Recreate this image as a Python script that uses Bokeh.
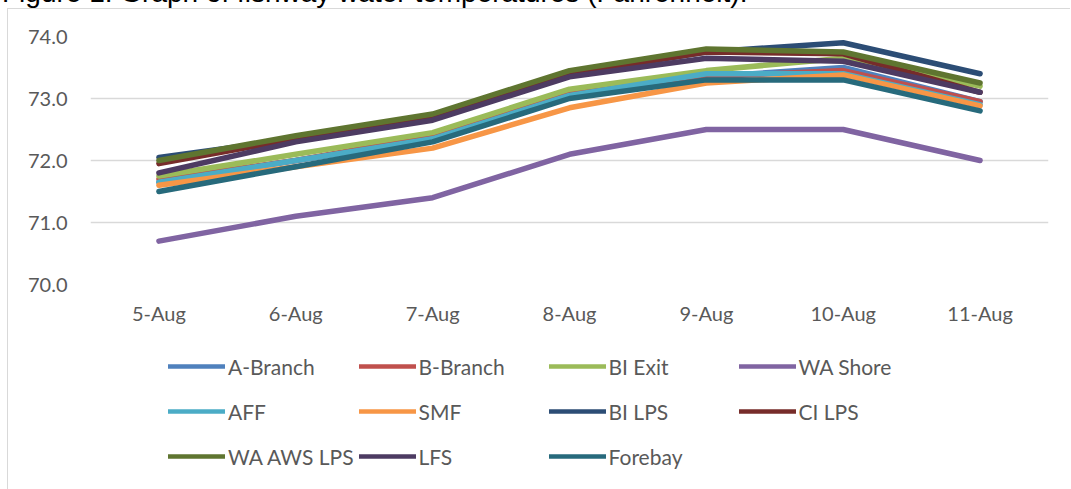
from bokeh.plotting import figure
from bokeh.models import (ColumnDataSource, Range1d, FactorRange, FixedTicker,
                          NumeralTickFormatter, Legend, LegendItem, Div,
                          GlobalInlineStyleSheet)
from bokeh.layouts import column
from bokeh.embed import file_html
from bokeh.resources import INLINE

dates = ["5-Aug", "6-Aug", "7-Aug", "8-Aug", "9-Aug", "10-Aug", "11-Aug"]

a_branch = [71.65, 72.0, 72.35, 73.05, 73.35, 73.5, 72.95]
b_branch = [71.7, 72.0, 72.4, 73.1, 73.35, 73.45, 72.95]
bi_exit = [71.75, 72.1, 72.45, 73.15, 73.45, 73.65, 73.2]
wa_shore = [70.7, 71.1, 71.4, 72.1, 72.5, 72.5, 72.0]
aff = [71.65, 72.0, 72.35, 73.05, 73.4, 73.4, 72.9]
smf = [71.6, 71.9, 72.2, 72.85, 73.25, 73.38, 72.88]
bi_lps = [72.05, 72.35, 72.7, 73.4, 73.75, 73.9, 73.4]
ci_lps = [71.95, 72.35, 72.7, 73.4, 73.75, 73.72, 73.1]
wa_aws_lps = [72.0, 72.4, 72.75, 73.45, 73.8, 73.75, 73.25]
lfs = [71.8, 72.3, 72.65, 73.35, 73.65, 73.6, 73.1]
forebay = [71.5, 71.9, 72.3, 73.0, 73.3, 73.3, 72.8]

names = ["A-Branch", "B-Branch", "BI Exit", "WA Shore", "AFF", "SMF",
         "BI LPS", "CI LPS", "WA AWS LPS", "LFS", "Forebay"]
series = [a_branch, b_branch, bi_exit, wa_shore, aff, smf,
          bi_lps, ci_lps, wa_aws_lps, lfs, forebay]
colors = ["#4F81BD", "#C0504D", "#9BBB59", "#8064A2", "#4BACC6", "#F79646",
          "#2C4D75", "#772C2A", "#5F7530", "#4D3B62", "#276A7C"]

FONT = "Lato"
TXT = "#595959"
BORDER = "1px solid #d9d9d9"

src = ColumnDataSource({"date": dates, **{n: s for n, s in zip(names, series)}})

# main chart
p = figure(width=1063, height=332, x_range=FactorRange(factors=dates),
           y_range=Range1d(70, 74), output_backend="svg", toolbar_location=None,
           title=None, min_border_left=82, min_border_top=27,
           min_border_right=23, min_border_bottom=57, margin=(0, 0, 0, 7),
           styles={"border-left": BORDER, "border-top": BORDER})
p.outline_line_color = None
p.background_fill_color = "white"
p.border_fill_color = "white"
p.xgrid.grid_line_color = None
p.ygrid.grid_line_color = "#d9d9d9"
p.ygrid.grid_line_width = 1.5
p.yaxis.ticker = FixedTicker(ticks=[70, 71, 72, 73, 74])
p.yaxis.formatter = NumeralTickFormatter(format="0.0")
for ax in (p.xaxis[0], p.yaxis[0]):
    ax.axis_line_color = None
    ax.major_tick_line_color = None
    ax.minor_tick_line_color = None
    ax.major_tick_out = 0
    ax.major_tick_in = 0
    ax.major_label_text_font = FONT
    ax.major_label_text_font_size = "20px"
    ax.major_label_text_color = TXT
p.yaxis.major_label_standoff = 23
p.xaxis.major_label_standoff = 16

for n, c in zip(names, colors):
    p.line(x="date", y=n, source=src, line_color=c, line_width=5.5,
           line_cap="round", line_join="round")

# legend panel (same series, lines hidden, only the legend is shown)
lg = figure(width=1063, height=149, x_range=FactorRange(factors=dates),
            y_range=Range1d(70, 74), output_backend="svg", toolbar_location=None,
            title=None, x_axis_type=None, y_axis_type=None, min_border=0,
            margin=(0, 0, 0, 7), styles={"border-left": BORDER})
lg.outline_line_color = None
lg.grid.visible = False
items = []
for n, c in zip(names, colors):
    r = lg.line(x="date", y=n, source=src, line_color=c, line_width=4.5,
                line_cap="round", line_join="round", visible=False)
    items.append(LegendItem(label=n, renderers=[r]))

legend = Legend(items=items, orientation="horizontal", ncols=4,
                location=(78, 13), glyph_width=57, glyph_height=40,
                label_height=40, label_width=125, label_standoff=3, spacing=5,
                padding=0, margin=0, border_line_color=None,
                background_fill_alpha=0, label_text_font=FONT,
                label_text_font_size="21px", label_text_color=TXT)
lg.add_layout(legend, "center")

title = Div(text='<div style="position:relative; top:-21px; left:2px; white-space:nowrap; '
                 'font-family:\'Liberation Sans\'; font-size:28px; line-height:28px; color:#000;">'
                 'Figure 1. Graph of fishway water temperatures (Fahrenheit).</div>',
            width=1071, height=8, margin=0, styles={"overflow": "hidden", "height": "8px"})

page_css = GlobalInlineStyleSheet(css="html, body { margin: 0 !important; padding: 0 !important; overflow: hidden; }")
layout = column(title, p, lg, spacing=0, margin=0, stylesheets=[page_css])
open("out.html", "w").write(file_html(layout, INLINE))
